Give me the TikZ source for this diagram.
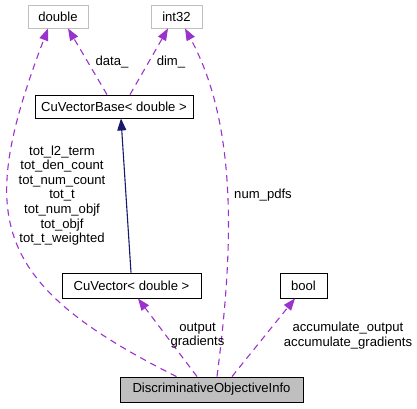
\documentclass[tikz,border=0pt]{standalone}
\usepackage{fontspec}
\setmainfont{Liberation Sans}
\usetikzlibrary{arrows.meta}
\definecolor{edgepurple}{HTML}{9A32CD}
\definecolor{edgenavy}{HTML}{191970}
\definecolor{boxgray}{HTML}{BFBFBF}
\tikzset{
  cls/.style={draw=black, line width=0.9pt, inner sep=0pt, minimum height=24pt, font=\fontsize{13.1}{14.6}\selectfont},
  ghost/.style={cls, draw=boxgray},
  mainbox/.style={cls, fill=boxgray},
  uses/.style={draw=edgepurple, line width=1.1pt, dash pattern=on 6.5pt off 5pt,
    -{Triangle[length=12pt, width=9pt, fill=edgepurple]}},
  inherit/.style={draw=edgenavy, line width=1.1pt,
    -{Triangle[length=12pt, width=9pt, fill=edgenavy]}},
  lbl/.style={align=center, inner sep=0pt, font=\fontsize{13.1}{14.6}\selectfont}
}
\begin{document}
\begin{tikzpicture}[x=1pt, y=-1pt]
\useasboundingbox (0,0) rectangle (417,408);
\node[ghost, minimum width=60pt, minimum height=23pt] (dbl) at (58,16.5) {double};
\node[ghost, minimum width=51pt, minimum height=23pt] (int) at (176.5,16.5) {int32};
\node[cls, minimum width=158pt, minimum height=23pt] (cvb) at (114,106.5) {CuVectorBase< double >};
\node[cls, minimum width=139pt, minimum height=25pt] (cv) at (131.5,285.5) {CuVector< double >};
\node[cls, minimum width=47pt, minimum height=25pt] (bool) at (303.5,285.5) {bool};
\node[mainbox, minimum width=183pt, minimum height=25pt] (doi) at (211.5,389.5) {DiscriminativeObjectiveInfo};

% edges
\draw[uses] ([xshift=57pt]doi.north west) .. controls +(-188,-94) and +(-71,187) .. ([xshift=-10pt]dbl.south);
\draw[uses] ([xshift=-7pt]cvb.north) -- ([xshift=10pt]dbl.south);
\draw[uses] ([xshift=16pt]cvb.north) -- ([xshift=-8.5pt]int.south);
\draw[uses] ([xshift=5.5pt]doi.north) .. controls +(15,-117) and +(55,101) .. ([xshift=8.5pt]int.south);
\draw[inherit] ([xshift=-0.5pt]cv.north) -- ([xshift=7pt]cvb.south);
\draw[uses] ([xshift=-14.5pt]doi.north) -- ([xshift=6.5pt]cv.south);
\draw[uses] ([xshift=20.5pt]doi.north) -- ([xshift=-8.5pt]bool.south);

% labels
\node[lbl] (ldata) at (112,62) {data\_};
\node[lbl] (ldim) at (171,62) {dim\_};
\node[lbl] (ltot) at (62,195.5) {tot\_l2\_term\\tot\_den\_count\\tot\_num\_count\\tot\_t\\tot\_num\_objf\\tot\_objf\\tot\_t\_weighted};
\node[lbl] (lnum) at (263,195) {num\_pdfs};
\node[lbl] (lout) at (197.5,335.5) {output\\gradients};
\node[lbl] (lacc) at (348,335.5) {accumulate\_output\\accumulate\_gradients};
\end{tikzpicture}
\end{document}
